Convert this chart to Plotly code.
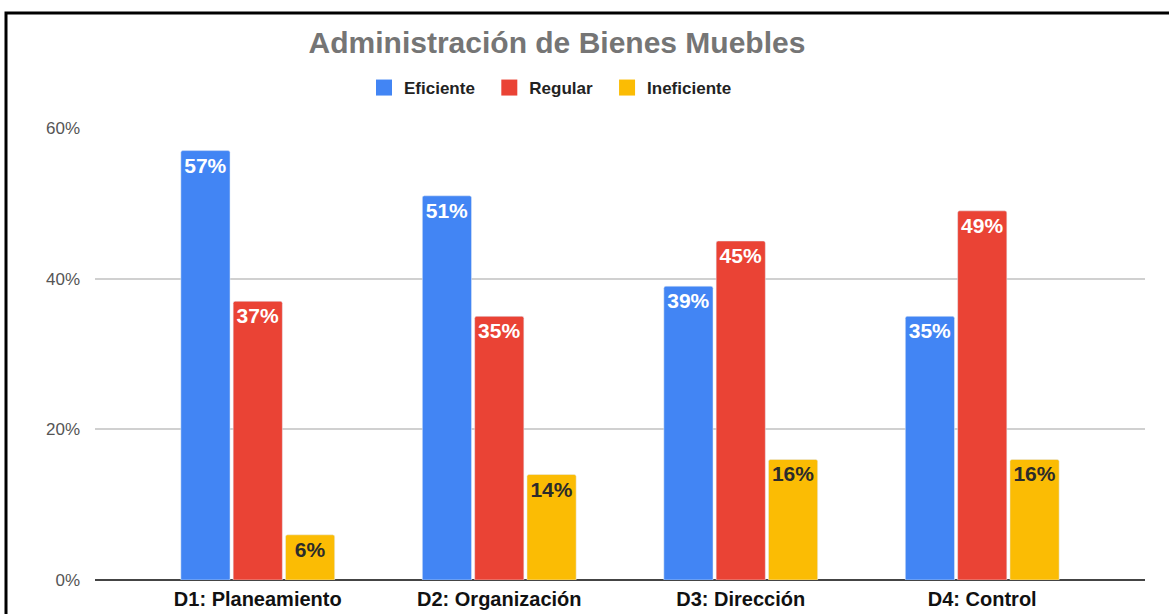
import plotly.graph_objects as go

categories = ["D1: Planeamiento", "D2: Organización", "D3: Dirección", "D4: Control"]
eficiente = [0.57, 0.51, 0.39, 0.35]
regular = [0.37, 0.35, 0.45, 0.49]
ineficiente = [0.06, 0.14, 0.16, 0.16]

series = [
    ("Eficiente", eficiente, "#4285F4", "white"),
    ("Regular", regular, "#EA4335", "white"),
    ("Ineficiente", ineficiente, "#FBBC04", "#2b2b2b"),
]

fig = go.Figure()
for name, vals, color, tcol in series:
    fig.add_trace(go.Bar(
        name=name, x=categories, y=vals, showlegend=False, legendgroup=name,
        marker=dict(color=color, cornerradius=2),
        text=[f"{round(v*100)}%" for v in vals],
        textposition="inside", insidetextanchor="end", textangle=0,
        constraintext="none",
        textfont=dict(family="Liberation Sans, Arial", size=21, color=tcol, weight="bold"),
    ))
for name, vals, color, tcol in series:
    fig.add_trace(go.Scatter(
        name=name + "\u00a0\u00a0", x=[None], y=[None], mode="markers", legendgroup=name,
        marker=dict(symbol="square", size=17, color=color),
    ))

W, H = 1169, 614
L, R, T, B = 95, 24, 128, 34
pw, ph = W - L - R, H - T - B

def px(x):
    return (x - L) / pw

def py(y):
    return (H - B - y) / ph

fig.update_layout(
    width=W, height=H,
    margin=dict(l=L, r=R, t=T, b=B),
    paper_bgcolor="white", plot_bgcolor="white",
    font=dict(family="Liberation Sans, Arial"),
    barmode="group", bargap=0.35, bargroupgap=0.06,
    title=dict(text="<b>Administración de Bienes Muebles</b>",
               x=557 / W, xanchor="center", xref="container",
               y=1 - 42 / H, yanchor="middle", yref="container",
               font=dict(size=30, color="#757575")),
    legend=dict(orientation="h", xref="container", yref="container",
                x=555 / W, xanchor="center", y=1 - 88 / H, yanchor="middle",
                font=dict(size=17, color="#222222", weight="bold"),
                itemwidth=30, traceorder="normal", itemsizing="trace"),
    xaxis=dict(range=[-0.674, 3.674], showgrid=False, ticks="",
               tickfont=dict(size=20, color="#111111", weight="bold"),
               showline=False, ticklabelstandoff=5, automargin=False),
    yaxis=dict(range=[0, 0.6], tickvals=[0, 0.2, 0.4, 0.6],
               ticktext=["0%", "20%", "40%", "60%"],
               gridcolor="#d0d0d0", gridwidth=1.5,
               zeroline=True, zerolinecolor="#444444", zerolinewidth=1.5,
               tickfont=dict(size=17, color="#555555"), ticks="",
               ticklabelstandoff=14, automargin=False),
    shapes=[dict(type="rect", xref="paper", yref="paper",
                 x0=px(6), x1=px(1180), y0=py(625), y1=py(13),
                 line=dict(color="black", width=3), layer="above")],
)

fig.write_html("out.html", config={"displayModeBar": False},
               post_script="document.body.style.margin='0';")
